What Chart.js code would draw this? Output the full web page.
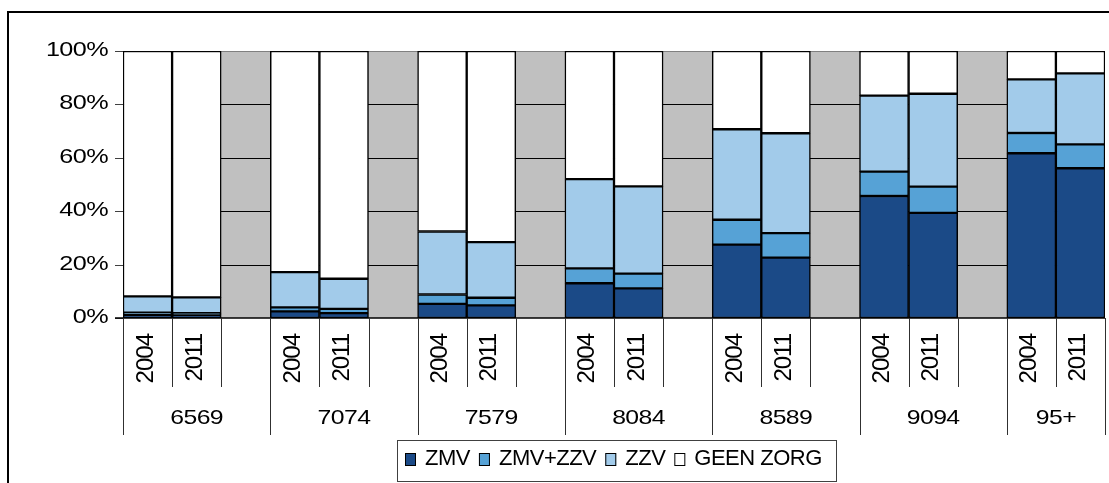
<!DOCTYPE html>
<html>
<head>
<meta charset="utf-8">
<script src="https://cdn.jsdelivr.net/npm/chart.js@4/dist/chart.umd.min.js"></script>
<style>
  html, body { margin: 0; padding: 0; background: #fff; }
  #zorg { display: block; }
</style>
</head>
<body>
<canvas id="zorg" width="1109" height="483"></canvas>
<script>
// age groups, two survey years per group
const groups = ["6569", "7074", "7579", "8084", "8589", "9094", "95+"];
const years = ["2004", "2011"];

// percentages per bar, order: group by group, 2004 then 2011
const zmv      = [1.2, 1.2, 2.5, 1.8, 5.3, 4.7, 13.0, 11.1, 27.5, 22.6, 45.7, 39.4, 61.7, 56.1];
const zmvZzv   = [0.8, 0.6, 1.5, 1.6, 3.5, 2.9, 5.6, 5.5, 9.3, 9.2, 9.1, 9.8, 7.6, 8.9];
const zzv      = [6.1, 5.9, 13.2, 11.3, 23.6, 20.8, 33.4, 32.7, 33.9, 37.4, 28.5, 34.8, 20.1, 26.6];
const geenZorg = [91.9, 92.3, 82.8, 85.3, 67.6, 71.6, 48.0, 50.7, 29.3, 30.8, 16.7, 16.0, 10.6, 8.4];

const yTicks = [0, 20, 40, 60, 80, 100];

// every group gets an empty slot after it, except the last one
const labels = [];
groups.forEach((g, gi) => {
    years.forEach((y) => labels.push(y));
    if (gi < groups.length - 1) labels.push("");
});

function spread(values) {
    const out = [];
    groups.forEach((g, gi) => {
        years.forEach((y, yi) => out.push(values[gi * years.length + yi]));
        if (gi < groups.length - 1) out.push(null);
    });
    return out;
}

function series(label, values, color) {
    return {
        label: label,
        data: spread(values),
        backgroundColor: color,
        borderColor: "#000",
        borderWidth: 1.5,
        borderSkipped: false,
        categoryPercentage: 1.0,
        barPercentage: 1.0,
    };
}

function stretchedText(ctx, text, x, y, sx, align) {
    ctx.save();
    ctx.translate(x, y);
    ctx.scale(sx, 1);
    ctx.textAlign = align;
    ctx.fillText(text, 0, 0);
    ctx.restore();
}

const excelLook = {
    id: "excelLook",
    beforeDatasetsDraw(chart) {
        const { ctx, chartArea: a, scales } = chart;
        ctx.save();
        ctx.fillStyle = "#c0c0c0";
        ctx.fillRect(a.left, a.top, a.right - a.left, a.bottom - a.top);
        yTicks.forEach((t) => {
            if (t === 0) return;
            const y = Math.round(scales.y.getPixelForValue(t)) + 0.5;
            ctx.strokeStyle = t === 100 ? "#808080" : "#000";
            ctx.lineWidth = 1;
            ctx.beginPath();
            ctx.moveTo(a.left, y);
            ctx.lineTo(a.right, y);
            ctx.stroke();
        });
        ctx.restore();
    },
    afterDatasetsDraw(chart) {
        const { ctx, chartArea: a, scales } = chart;
        const x = scales.x, y = scales.y;
        const slot = (a.right - a.left) / labels.length;
        ctx.save();

        // value axis ticks and labels
        ctx.strokeStyle = "#404040";
        ctx.lineWidth = 1;
        ctx.fillStyle = "#000";
        ctx.font = "21px 'Liberation Sans', Arial, sans-serif";
        ctx.letterSpacing = "-0.5px";
        ctx.textBaseline = "middle";
        yTicks.forEach((t) => {
            const py = Math.round(y.getPixelForValue(t)) + 0.5;
            ctx.beginPath();
            ctx.moveTo(a.left - 8, py);
            ctx.lineTo(a.left, py);
            ctx.stroke();
            stretchedText(ctx, t + "%", a.left - 15, py - 1, 1.2, "right");
        });

        // category axis line
        ctx.strokeStyle = "#000";
        ctx.lineWidth = 1.5;
        ctx.beginPath();
        ctx.moveTo(a.left - 8, a.bottom);
        ctx.lineTo(a.right, a.bottom);
        ctx.stroke();

        // slot dividers: short between bars, long at group edges
        ctx.lineWidth = 1;
        ctx.strokeStyle = "#303030";
        const bounds = [];
        let idx = 0;
        groups.forEach((g, gi) => {
            bounds.push({ i: idx, long: true });
            bounds.push({ i: idx + 1, long: false });
            bounds.push({ i: idx + 2, long: false });
            idx += gi < groups.length - 1 ? 3 : 2;
        });
        bounds.push({ i: labels.length, long: true });
        bounds.forEach((b) => {
            const px = Math.round(x.getPixelForValue(b.i) - slot / 2) + 0.5;
            ctx.beginPath();
            ctx.moveTo(px, a.bottom);
            ctx.lineTo(px, b.long ? 435 : 387);
            ctx.stroke();
        });

        // rotated year labels
        ctx.font = "24px 'Liberation Sans', Arial, sans-serif";
        ctx.letterSpacing = "-1px";
        ctx.textBaseline = "alphabetic";
        labels.forEach((lab, i) => {
            if (!lab) return;
            const cx = x.getPixelForValue(i);
            ctx.save();
            ctx.translate(cx + 5, a.bottom + 16);
            ctx.rotate(-Math.PI / 2);
            ctx.textAlign = "right";
            ctx.fillText(lab, 0, 0);
            ctx.restore();
        });

        // group labels
        ctx.font = "21px 'Liberation Sans', Arial, sans-serif";
        ctx.letterSpacing = "-0.5px";
        ctx.textBaseline = "middle";
        idx = 0;
        groups.forEach((g, gi) => {
            const span = gi < groups.length - 1 ? 3 : 2;
            const left = x.getPixelForValue(idx) - slot / 2;
            const cx = left + (span * slot) / 2;
            stretchedText(ctx, g, cx, 418, 1.18, "center");
            idx += span;
        });

        // legend
        const lx = 397, ly = 440, lw = 439, lh = 41;
        ctx.strokeStyle = "#404040";
        ctx.lineWidth = 1;
        ctx.fillStyle = "#fff";
        ctx.fillRect(lx, ly, lw, lh);
        ctx.strokeRect(lx + 0.5, ly + 0.5, lw, lh);
        ctx.font = "22px 'Liberation Sans', Arial, sans-serif";
        ctx.letterSpacing = "-0.5px";
        ctx.textBaseline = "middle";
        ctx.textAlign = "left";
        let cur = lx + 8;
        const my = ly + 19;
        chart.data.datasets.forEach((ds) => {
            ctx.fillStyle = ds.backgroundColor;
            ctx.fillRect(cur, my - 6, 11, 13);
            ctx.strokeStyle = "#000";
            ctx.strokeRect(cur + 0.5, my - 6 + 0.5, 10, 12);
            cur += 20;
            ctx.fillStyle = "#000";
            ctx.fillText(ds.label, cur, my);
            cur += ctx.measureText(ds.label).width + 9;
        });

        // outer frame
        ctx.strokeStyle = "#000";
        ctx.lineWidth = 2;
        ctx.beginPath();
        ctx.moveTo(8, chart.height);
        ctx.lineTo(8, 12);
        ctx.lineTo(chart.width, 12);
        ctx.stroke();

        ctx.restore();
    },
};

const ctx = document.getElementById("zorg").getContext("2d");
const zorgChart = new Chart(ctx, {
    type: "bar",
    data: {
        labels: labels,
        datasets: [
            series("ZMV", zmv, "#1b4a87"),
            series("ZMV+ZZV", zmvZzv, "#56a2d6"),
            series("ZZV", zzv, "#a2cbea"),
            series("GEEN ZORG", geenZorg, "#ffffff"),
        ],
    },
    options: {
        responsive: false,
        animation: false,
        layout: {
            padding: { left: 123, right: 4, top: 51, bottom: 165 },
        },
        scales: {
            x: {
                stacked: true,
                display: false,
            },
            y: {
                stacked: true,
                display: false,
                min: 0,
                max: 100,
            },
        },
        plugins: {
            legend: { display: false },
            tooltip: { enabled: false },
        },
    },
    plugins: [excelLook],
});
</script>
</body>
</html>
